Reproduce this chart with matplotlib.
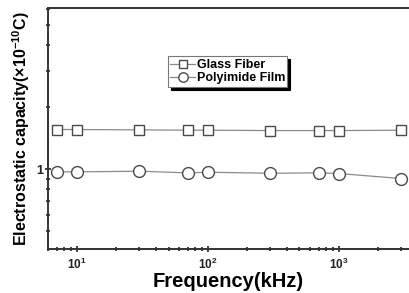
import matplotlib
matplotlib.use("Agg")
import matplotlib.pyplot as plt
from matplotlib.ticker import LogLocator, NullFormatter, FixedLocator, FixedFormatter

plt.rcParams['font.family'] = ['Liberation Sans', 'DejaVu Sans']
plt.rcParams['font.weight'] = 'bold'
plt.rcParams['mathtext.fontset'] = 'custom'
plt.rcParams['mathtext.rm'] = 'Liberation Sans:bold'
plt.rcParams['mathtext.bf'] = 'Liberation Sans:bold'
plt.rcParams['mathtext.it'] = 'Liberation Sans:bold'
plt.rcParams['mathtext.default'] = 'bf'

# data
freq = [7, 10, 30, 70, 100, 300, 700, 1000, 3000]  # kHz
glass_fiber = [1.558, 1.558, 1.552, 1.546, 1.546, 1.540, 1.540, 1.540, 1.546]
polyimide = [0.971, 0.971, 0.978, 0.960, 0.967, 0.956, 0.960, 0.953, 0.901]
labels = ["Glass Fiber", "Polyimide Film"]

fig = plt.figure(figsize=(4.09, 2.93), dpi=100)
# right side is cropped in the scan, so the axes runs to the figure edge
ax = fig.add_axes([0.1174, 0.150, 0.8826, 0.8215])

line_col = '#8a8a8a'
edge_col = '#4a4a4a'
ax.plot(freq, glass_fiber, '-s', color=line_col, lw=0.9, ms=7,
        mfc='white', mec=edge_col, mew=1.0, label=labels[0])
ax.plot(freq, polyimide, '-o', color=line_col, lw=0.9, ms=8.5,
        mfc='white', mec=edge_col, mew=1.0, label=labels[1])

ax.set_xscale('log')
ax.set_yscale('log')
ax.set_xlim(6, 3440)
ax.set_ylim(0.41, 6.03)

ax.xaxis.set_major_locator(LogLocator(base=10))
ax.xaxis.set_minor_locator(LogLocator(base=10, subs=range(2, 10), numticks=20))
ax.xaxis.set_minor_formatter(NullFormatter())
ax.yaxis.set_major_locator(FixedLocator([1]))
ax.yaxis.set_major_formatter(FixedFormatter(['1']))
ax.yaxis.set_minor_locator(LogLocator(base=10, subs=range(2, 10), numticks=20))
ax.yaxis.set_minor_formatter(NullFormatter())

ax.tick_params(which='both', direction='inout', colors='#222222', width=1.2)
ax.tick_params(which='major', length=5, labelsize=8.5, pad=3)
ax.tick_params(which='minor', length=3)
ax.tick_params(axis='y', which='major', pad=1, labelsize=9)
ax.spines['right'].set_visible(False)

for s in ax.spines.values():
    s.set_linewidth(1.4)
    s.set_color('#333333')

ax.set_xlabel('Frequency(kHz)', fontsize=14.5, fontweight='bold', labelpad=0)
ax.set_ylabel(r'Electrostatic capacity($\times$10$^{-10}$C)', fontsize=11.5,
              fontweight='bold', labelpad=3)

leg = ax.legend(loc='upper left', bbox_to_anchor=(0.332, 0.80), borderaxespad=0,
                fontsize=9, frameon=True, fancybox=False,
                shadow={'color': 'black', 'alpha': 1.0},
                edgecolor='#777777', framealpha=1.0, labelspacing=0.1,
                handlelength=2.0, handletextpad=0.1, borderpad=0.2,
                markerscale=0.8)
leg.get_frame().set_linewidth(0.8)

fig.savefig('out.png', dpi=100)
